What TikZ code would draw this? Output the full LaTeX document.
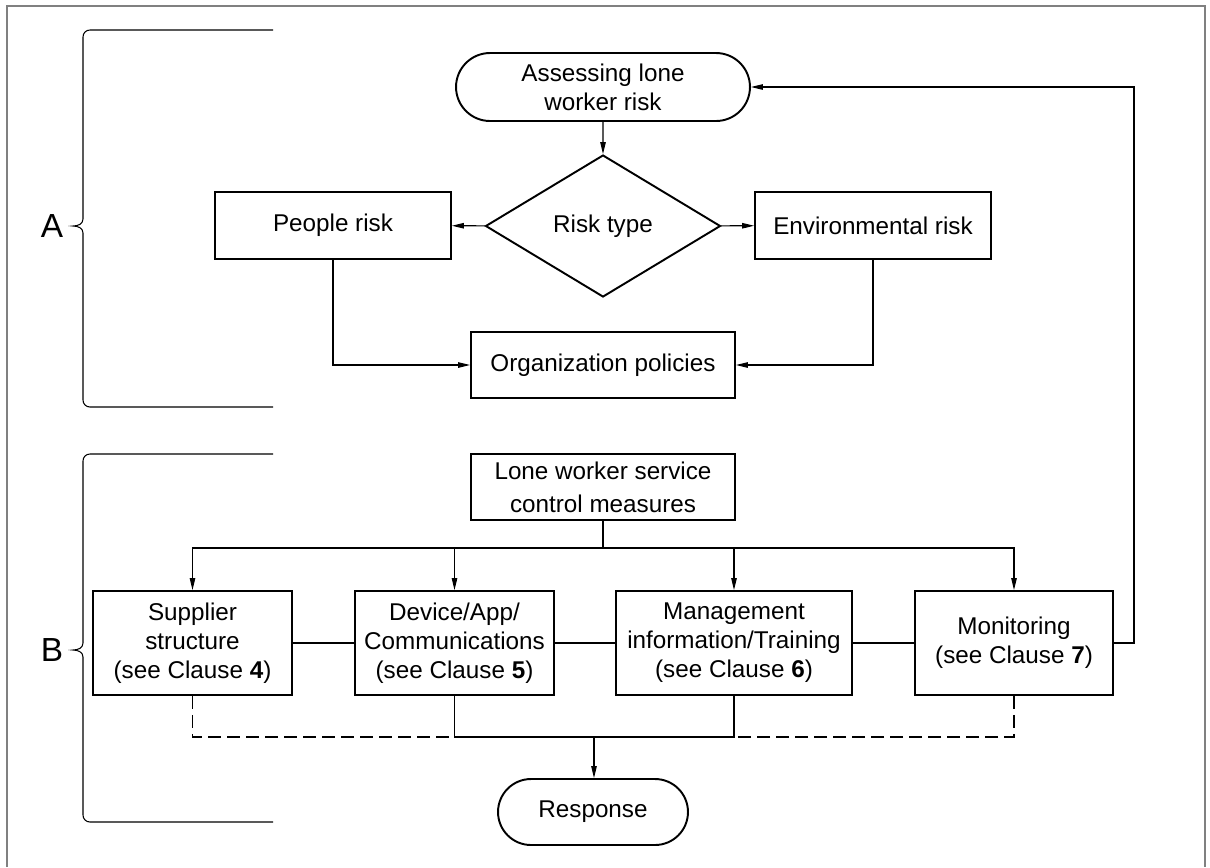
\documentclass[tikz,border=0pt]{standalone}
\usepackage{fontspec}
\setmainfont{Liberation Sans}
\usetikzlibrary{shapes.geometric,shapes.misc,arrows.meta}

\begin{document}
\begin{tikzpicture}[x=0.02cm,y=-0.02cm,
    box/.style={draw,line width=1.1pt,align=center,inner sep=0pt,font=\fontsize{13.8}{16.5}\selectfont},
    terminal/.style={box,rounded rectangle},
    decision/.style={box,diamond},
    link/.style={line width=0.6pt},
    arr/.style={link,-{Triangle[length=0.24cm,width=0.11cm]}},
    letter/.style={font=\fontsize{19}{19}\selectfont}]
    \useasboundingbox (0,0) rectangle (1210,867);

    % Frame
    \draw[gray, line width=0.8pt] (7,867) -- (7,6) -- (1205,6) -- (1205,867);

    % Brace A
    \draw[link] (273,30) -- (90,30) .. controls (86,30) and (83,33) .. (83,37) -- (83,219)
        .. controls (83,224) and (78,226) .. (73,226) .. controls (78,226) and (83,228) .. (83,233)
        -- (83,400) .. controls (83,404) and (86,407) .. (90,407) -- (273,407);
    \node[letter] (labA) at (52,226) {A};

    % Brace B
    \draw[link] (273,454) -- (90,454) .. controls (86,454) and (83,457) .. (83,461) -- (83,643)
        .. controls (83,648) and (78,650) .. (73,650) .. controls (78,650) and (83,652) .. (83,657)
        -- (83,815) .. controls (83,819) and (86,822) .. (90,822) -- (273,822);
    \node[letter] (labB) at (52,650) {B};

    % Risk assessment
    \node[terminal, minimum width=5.88cm, minimum height=1.36cm] (assess) at (603,87) {Assessing lone\\worker risk};
    \node[decision, minimum width=4.7cm, minimum height=2.84cm] (risktype) at (603,226) {Risk type};
    \node[box, minimum width=4.72cm, minimum height=1.34cm] (people) at (333,225.5) {People risk};
    \node[box, minimum width=4.72cm, minimum height=1.34cm] (env) at (873,225.5) {Environmental risk};
    \node[box, minimum width=5.28cm, minimum height=1.32cm] (policies) at (603,365) {Organization policies};

    \draw[arr] (assess) -- (risktype);
    \draw[arr] (risktype) -- (people);
    \draw[arr] (risktype) -- (env);
    \draw[arr] (people) |- (policies);
    \draw[arr] (env) |- (policies);

    % Control measures
    \node[box, minimum width=5.28cm, minimum height=1.32cm, font=\fontsize{13.8}{18.7}\selectfont] (control) at (603,487) {Lone worker service\\control measures};
    \node[box, minimum width=3.98cm, minimum height=2.08cm] (supplier) at (192.5,643) {Supplier\\structure\\(see Clause \textbf{4})};
    \node[box, minimum width=3.98cm, minimum height=2.08cm] (device) at (454.5,643) {Device/App/\\Communications\\(see Clause \textbf{5})};
    \node[box, minimum width=4.72cm, minimum height=2.08cm] (mgmt) at (734,643) {Management\\information/Training\\(see Clause \textbf{6})};
    \node[box, minimum width=3.96cm, minimum height=2.08cm] (monitor) at (1014,643) {Monitoring\\(see Clause \textbf{7})};
    \node[terminal, minimum width=3.8cm, minimum height=1.32cm] (response) at (593,812) {Response};

    \coordinate (split) at (603,548);
    \foreach \n in {supplier,device,mgmt,monitor}
        \draw[arr] (control) -- (split) -| (\n);
    \draw[link] (supplier) -- (device) -- (mgmt) -- (monitor);

    % Feedback to assessment
    \coordinate (loop) at (1134,643);
    \draw[arr] (monitor) -- (loop) |- (assess);

    % Into response
    \coordinate (join) at (594,737);
    \draw[link] (device.south) -- (device.south |- join) -- (mgmt.south |- join) -- (mgmt.south);
    \draw[link, dash pattern=on 0.26cm off 0.12cm] (supplier.south) |- (device.south |- join);
    \draw[link, dash pattern=on 0.26cm off 0.12cm] (monitor.south) |- (mgmt.south |- join);
    \draw[arr] (join) -- (join |- response.north);
\end{tikzpicture}
\end{document}
